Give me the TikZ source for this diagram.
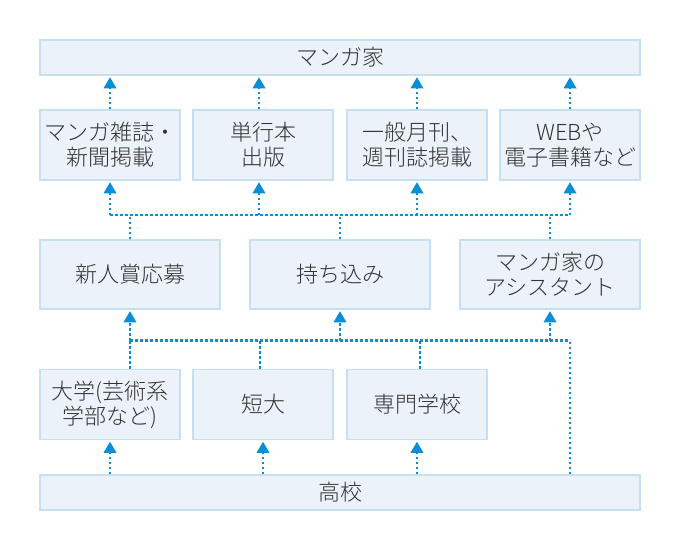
\documentclass[tikz,border=0pt]{standalone}
\usepackage{fontspec}
\setmainfont{Noto Sans CJK JP Light}
\usepackage{tikz}
\usetikzlibrary{arrows.meta}

\definecolor{boxfill}{HTML}{EBF2F9}
\definecolor{boxline}{HTML}{C6E0F1}
\definecolor{linkblue}{HTML}{0A8FD6}
\definecolor{textgray}{HTML}{333333}

\begin{document}
\begin{tikzpicture}[x=1pt,y=-1pt]
\tikzstyle{box} = [rectangle,draw=boxline,fill=boxfill,line width=1.5pt,
  text=textgray,align=center,inner sep=0pt,
  font=\fontsize{22}{25}\selectfont]
\tikzstyle{wide} = [box,minimum width=600pt,minimum height=35pt]
\tikzstyle{small} = [box,minimum width=140pt,minimum height=70pt]
\tikzstyle{mid} = [box,minimum width=180pt,minimum height=69pt]
\tikzstyle{dots} = [linkblue,line width=2.5pt,dash pattern=on 2.5pt off 2.5pt]
\tikzstyle{arrow} = [dots,-{Triangle[width=13pt,length=11pt,line width=0pt]},shorten >=1.5pt]
\useasboundingbox (0,0) rectangle (680,550);
% boxes
\node[wide] (ka) at (340,57.5) {マンガ家};
\node[small] (p1) at (110,145) {マンガ雑誌・\\新聞掲載};
\node[small] (p2) at (263,145) {単行本\\出版};
\node[small] (p3) at (417,145) {一般月刊、\\週刊誌掲載};
\node[small] (p4) at (570,145) {WEBや\\電子書籍など};
\node[mid] (r1) at (130,274.5) {新人賞応募};
\node[mid] (r2) at (340,274.5) {持ち込み};
\node[mid] (r3) at (550,274.5) {マンガ家の\\アシスタント};
\node[small] (s1) at (110,404.5) {大学(芸術系\\学部など)};
\node[small] (s2) at (263,404.5) {短大};
\node[small] (s3) at (417,404.5) {専門学校};
\node[wide] (koko) at (340,492.5) {高校};
\coordinate (b1) at (0,215);
\coordinate (b2) at (0,340.5);
% to the top
\draw[arrow] (p1.north) -- (p1.north |- ka.south);
\draw[arrow] ([xshift=-4pt]p2.north) -- ([xshift=-4pt]p2.north |- ka.south);
\draw[arrow] (p3.north) -- (p3.north |- ka.south);
\draw[arrow] (p4.north) -- (p4.north |- ka.south);
% upper bus
\draw[dots] (p1.south |- b1) -- (p4.south |- b1);
\draw[dots] (r1.north) -- (r1.north |- b1);
\draw[dots] (r2.north) -- (r2.north |- b1);
\draw[dots] (r3.north) -- (r3.north |- b1);
\draw[arrow] (p1.south |- b1) -- (p1.south);
\draw[arrow] ([xshift=-4pt]p2.south |- b1) -- ([xshift=-4pt]p2.south);
\draw[arrow] (p3.south |- b1) -- (p3.south);
\draw[arrow] (p4.south |- b1) -- (p4.south);
% lower bus
\draw[dots] (r1.south |- b2) -- (p4.south |- b2);
\draw[dots] (s1.north -| r1.south) -- (r1.south |- b2);
\draw[dots] ([xshift=-3pt]s2.north) -- ([xshift=-3pt]s2.north |- b2);
\draw[dots] ([xshift=3pt]s3.north) -- ([xshift=3pt]s3.north |- b2);
\draw[dots] (koko.north -| p4.south) -- (p4.south |- b2);
\draw[arrow] (r1.south |- b2) -- (r1.south);
\draw[arrow] (r2.south |- b2) -- (r2.south);
\draw[arrow] (r3.south |- b2) -- (r3.south);
% from koko
\draw[arrow] (koko.north -| s1.south) -- (s1.south);
\draw[arrow] (koko.north -| s2.south) -- (s2.south);
\draw[arrow] (koko.north -| s3.south) -- (s3.south);
\end{tikzpicture}
\end{document}
